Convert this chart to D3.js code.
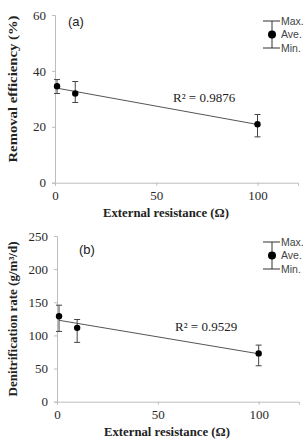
<!DOCTYPE html>
<html>
<head>
<meta charset="utf-8">
<script src="https://cdn.jsdelivr.net/npm/d3@7"></script>
<style>
  body { margin: 0; background: #fff; }
  svg { display: block; }
</style>
</head>
<body>
<svg width="307" height="441"></svg>
<script>
const resistance = [1, 10, 100];
const removalAve = [34.5, 31.9, 20.9];
const removalMax = [36.9, 36.2, 24.4];
const removalMin = [31.9, 28.7, 16.4];
const denitAve = [129, 111.4, 72.9];
const denitMax = [145.6, 124, 85.4];
const denitMin = [106, 89.5, 54.2];
const xTicks = [0, 50, 100];
const removalTicks = [0, 20, 40, 60];
const denitTicks = [0, 50, 100, 150, 200, 250];
const r2Labels = ['R\u00b2 = 0.9876', 'R\u00b2 = 0.9529'];
const panelTags = ['(a)', '(b)'];
const yLabels = ['Removal efficiency (%)', 'Denitrification rate (g/m\u00b3/d)'];
const xLabel = 'External resistance (\u03a9)';
const legendLabels = ['Max.', 'Ave.', 'Min.'];

const svg = d3.select('svg');
const serif = '"Liberation Serif", "Times New Roman", serif';
const sans = '"Liberation Sans", Arial, sans-serif';

function panel(o) {
  const g = svg.append('g');
  const x = d3.scaleLinear().domain([0, 120]).range(o.xr);
  const y = d3.scaleLinear().domain([0, o.yMax]).range(o.yr);

  // axes
  const xa = g.append('g')
    .attr('transform', `translate(0,${o.yr[0]})`)
    .call(d3.axisBottom(x).tickValues(xTicks).tickSize(3).tickPadding(5));
  const ya = g.append('g')
    .attr('transform', `translate(${o.xr[0]},0)`)
    .call(d3.axisLeft(y).tickValues(o.ticks).tickSize(3).tickPadding(6));
  [xa, ya].forEach(a => {
    a.select('.domain').attr('stroke', '#bdbdbd');
    a.selectAll('.tick line').attr('stroke', '#bdbdbd');
    a.selectAll('text').attr('font-family', serif).attr('font-size', 13).attr('fill', '#2a2a2a');
  });

  // linear trend from the averages
  const mx = d3.mean(resistance), my = d3.mean(o.ave);
  const slope = d3.sum(resistance, (v, i) => (v - mx) * (o.ave[i] - my)) / d3.sum(resistance, v => (v - mx) ** 2);
  const icpt = my - slope * mx;
  const ends = d3.extent(resistance);
  g.append('line')
    .attr('x1', x(ends[0])).attr('y1', y(icpt + slope * ends[0]))
    .attr('x2', x(ends[1])).attr('y2', y(icpt + slope * ends[1]))
    .attr('stroke', '#555').attr('stroke-width', 1);

  // error bars
  const eb = g.selectAll('.eb').data(resistance).enter().append('g');
  eb.append('line')
    .attr('x1', d => x(d)).attr('x2', d => x(d))
    .attr('y1', (d, i) => y(o.max[i])).attr('y2', (d, i) => y(o.min[i]))
    .attr('stroke', '#444');
  eb.append('line')
    .attr('x1', d => x(d) - 3).attr('x2', d => x(d) + 3)
    .attr('y1', (d, i) => y(o.max[i])).attr('y2', (d, i) => y(o.max[i]))
    .attr('stroke', '#444');
  eb.append('line')
    .attr('x1', d => x(d) - 3).attr('x2', d => x(d) + 3)
    .attr('y1', (d, i) => y(o.min[i])).attr('y2', (d, i) => y(o.min[i]))
    .attr('stroke', '#444');
  eb.append('circle')
    .attr('cx', d => x(d)).attr('cy', (d, i) => y(o.ave[i]))
    .attr('r', 3.2).attr('fill', '#000');

  // texts
  g.append('text').attr('x', o.r2[0]).attr('y', o.r2[1])
    .attr('font-family', serif).attr('font-size', 13).attr('fill', '#222')
    .text(o.r2Text);
  g.append('text').attr('x', o.tag[0]).attr('y', o.tag[1])
    .attr('font-family', sans).attr('font-size', 13).attr('fill', '#222')
    .text(o.tagText);
  g.append('text')
    .attr('transform', `translate(${o.ylab[0]},${o.ylab[1]}) rotate(-90)`)
    .attr('text-anchor', 'middle')
    .attr('font-family', serif).attr('font-weight', 'bold').attr('font-size', 12.5)
    .attr('textLength', o.ylab[2]).attr('lengthAdjust', 'spacingAndGlyphs')
    .attr('fill', '#222').text(o.yLabel);
  g.append('text')
    .attr('x', o.xlab[0]).attr('y', o.xlab[1])
    .attr('text-anchor', 'middle')
    .attr('font-family', serif).attr('font-weight', 'bold').attr('font-size', 13)
    .attr('textLength', 126).attr('lengthAdjust', 'spacingAndGlyphs')
    .attr('fill', '#222').text(xLabel);

  // legend
  const lg = g.append('g').attr('transform', `translate(272,${o.leg})`);
  const ly = [0, 13.5, 27];
  lg.append('line').attr('x1', 0).attr('x2', 0).attr('y1', ly[0]).attr('y2', ly[2]).attr('stroke', '#333');
  lg.append('line').attr('x1', -9).attr('x2', 8).attr('y1', ly[0]).attr('y2', ly[0]).attr('stroke', '#333');
  lg.append('line').attr('x1', -9).attr('x2', 8).attr('y1', ly[2]).attr('y2', ly[2]).attr('stroke', '#333');
  lg.append('circle').attr('cx', 0).attr('cy', ly[1]).attr('r', 4).attr('fill', '#000');
  lg.selectAll('.lt').data(legendLabels).enter().append('text')
    .attr('x', 9).attr('y', (d, i) => ly[i] + 3.8)
    .attr('font-family', sans).attr('font-size', 10.5).attr('fill', '#444')
    .text(d => d);
}

panel({
  xr: [55, 298], yr: [182.7, 15], yMax: 60, ticks: removalTicks,
  ave: removalAve, max: removalMax, min: removalMin,
  r2Text: r2Labels[0], r2: [173, 102],
  tagText: panelTags[0], tag: [68, 26],
  yLabel: yLabels[0], ylab: [17, 89, 147],
  xlab: [166, 217], leg: 21
});
panel({
  xr: [57, 299], yr: [401.7, 236], yMax: 250, ticks: denitTicks,
  ave: denitAve, max: denitMax, min: denitMin,
  r2Text: r2Labels[1], r2: [175, 331],
  tagText: panelTags[1], tag: [79, 254],
  yLabel: yLabels[1], ylab: [17, 319, 155],
  xlab: [167, 436], leg: 242
});
</script>
</body>
</html>
